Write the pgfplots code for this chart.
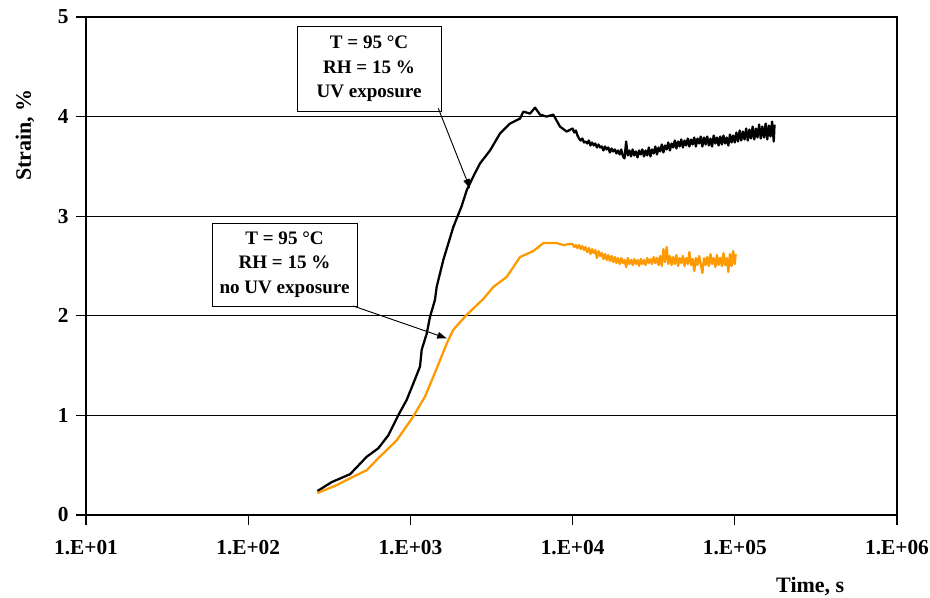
\documentclass[border=0pt]{standalone}
\usepackage{fontspec}
\setmainfont{Liberation Serif}
\usepackage{pgfplots}
\pgfplotsset{compat=1.18}
\usetikzlibrary{arrows.meta}
\definecolor{uvorange}{RGB}{255,153,0}

% UV exposure (black)
\pgfplotstableread{
t       s
267     0.24
327     0.33
425     0.41
538     0.585
634     0.67
731     0.80
841     1.00
948     1.155
1042    1.32
1146    1.49
1174    1.66
1260    1.82
1321    1.99
1417    2.16
1452    2.29
1595    2.56
1838    2.89
2068    3.10
2224    3.26
2444    3.40
2687    3.53
3097    3.66
3567    3.83
4112    3.93
4742    3.98
4970    4.05
5462    4.03
5866    4.09
6295    4.02
6920    4.00
7605    4.02
8356    3.90
9190    3.85
1.000e4 3.88
1.023e4 3.84
1.047e4 3.86
1.072e4 3.81
1.096e4 3.78
1.122e4 3.76
1.148e4 3.78
1.175e4 3.74
1.202e4 3.75
1.230e4 3.73
1.259e4 3.76
1.288e4 3.71
1.318e4 3.74
1.349e4 3.71
1.380e4 3.73
1.413e4 3.69
1.445e4 3.72
1.479e4 3.69
1.514e4 3.70
1.549e4 3.66
1.585e4 3.70
1.622e4 3.67
1.660e4 3.69
1.698e4 3.64
1.738e4 3.68
1.778e4 3.65
1.820e4 3.67
1.862e4 3.63
1.905e4 3.66
1.950e4 3.62
1.995e4 3.67
2.042e4 3.60
2.089e4 3.58
2.138e4 3.75
2.188e4 3.61
2.239e4 3.66
2.291e4 3.60
2.344e4 3.67
2.399e4 3.61
2.455e4 3.65
2.512e4 3.59
2.570e4 3.66
2.630e4 3.62
2.692e4 3.67
2.754e4 3.60
2.818e4 3.66
2.884e4 3.61
2.951e4 3.69
3.020e4 3.60
3.090e4 3.67
3.162e4 3.63
3.236e4 3.70
3.311e4 3.62
3.388e4 3.69
3.467e4 3.65
3.548e4 3.72
3.631e4 3.64
3.715e4 3.71
3.802e4 3.67
3.890e4 3.74
3.981e4 3.66
4.074e4 3.73
4.169e4 3.69
4.266e4 3.76
4.365e4 3.68
4.467e4 3.75
4.571e4 3.70
4.677e4 3.77
4.786e4 3.69
4.898e4 3.76
5.012e4 3.71
5.129e4 3.78
5.248e4 3.70
5.370e4 3.77
5.495e4 3.72
5.623e4 3.79
5.754e4 3.70
5.888e4 3.78
6.026e4 3.73
6.166e4 3.80
6.310e4 3.70
6.457e4 3.79
6.607e4 3.72
6.761e4 3.80
6.918e4 3.71
7.079e4 3.78
7.244e4 3.70
7.413e4 3.81
7.586e4 3.73
7.762e4 3.79
7.943e4 3.71
8.128e4 3.80
8.318e4 3.72
8.511e4 3.81
8.710e4 3.73
8.913e4 3.79
9.120e4 3.71
9.333e4 3.82
9.550e4 3.74
9.772e4 3.81
1.000e5 3.74
1.023e5 3.84
1.047e5 3.75
1.072e5 3.86
1.096e5 3.76
1.122e5 3.85
1.148e5 3.77
1.175e5 3.88
1.202e5 3.76
1.230e5 3.87
1.259e5 3.78
1.288e5 3.90
1.318e5 3.77
1.349e5 3.88
1.380e5 3.79
1.413e5 3.92
1.445e5 3.78
1.479e5 3.90
1.514e5 3.79
1.549e5 3.93
1.585e5 3.77
1.622e5 3.91
1.660e5 3.80
1.698e5 3.95
1.738e5 3.75
1.758e5 3.92
}\uvdata

% no UV exposure (orange)
\pgfplotstableread{
t       s
267     0.22
351     0.30
445     0.385
538     0.45
634     0.57
823     0.75
1042    0.99
1231    1.19
1452    1.47
1673    1.72
1838    1.86
2224    2.01
2816    2.17
3246    2.29
3924    2.39
4742    2.59
5723    2.65
6597    2.73
7974    2.73
8765    2.71
9550    2.72
1.000e4 2.72
1.023e4 2.69
1.047e4 2.71
1.072e4 2.68
1.096e4 2.71
1.122e4 2.67
1.148e4 2.70
1.175e4 2.66
1.202e4 2.69
1.230e4 2.64
1.259e4 2.68
1.288e4 2.62
1.318e4 2.67
1.349e4 2.63
1.380e4 2.66
1.413e4 2.58
1.445e4 2.65
1.479e4 2.60
1.514e4 2.63
1.549e4 2.57
1.585e4 2.62
1.622e4 2.56
1.660e4 2.61
1.698e4 2.55
1.738e4 2.60
1.778e4 2.54
1.820e4 2.59
1.862e4 2.53
1.905e4 2.58
1.950e4 2.52
1.995e4 2.58
2.042e4 2.53
2.089e4 2.56
2.138e4 2.49
2.188e4 2.58
2.239e4 2.52
2.291e4 2.56
2.344e4 2.51
2.399e4 2.57
2.455e4 2.52
2.512e4 2.56
2.570e4 2.50
2.630e4 2.57
2.692e4 2.52
2.754e4 2.56
2.818e4 2.51
2.884e4 2.58
2.951e4 2.53
3.020e4 2.57
3.090e4 2.52
3.162e4 2.59
3.236e4 2.53
3.311e4 2.58
3.388e4 2.51
3.467e4 2.60
3.548e4 2.50
3.631e4 2.67
3.715e4 2.54
3.802e4 2.69
3.890e4 2.52
3.981e4 2.60
4.074e4 2.51
4.169e4 2.59
4.266e4 2.52
4.365e4 2.61
4.467e4 2.50
4.571e4 2.58
4.677e4 2.53
4.786e4 2.60
4.898e4 2.50
5.012e4 2.58
5.129e4 2.52
5.248e4 2.64
5.370e4 2.51
5.495e4 2.57
5.623e4 2.45
5.754e4 2.58
5.888e4 2.51
6.026e4 2.60
6.166e4 2.52
6.310e4 2.43
6.457e4 2.58
6.607e4 2.51
6.761e4 2.59
6.918e4 2.50
7.079e4 2.62
7.244e4 2.52
7.413e4 2.58
7.586e4 2.49
7.762e4 2.61
7.943e4 2.51
8.128e4 2.58
8.318e4 2.50
8.511e4 2.63
8.710e4 2.51
8.913e4 2.58
9.120e4 2.44
9.333e4 2.62
9.550e4 2.50
9.772e4 2.65
1.000e5 2.52
1.012e5 2.62
}\nouvdata

\begin{document}
\begin{tikzpicture}
\useasboundingbox (-64.5pt,-62.25pt) rectangle (633pt,386.25pt);
\begin{axis}[
  at={(0,0)}, anchor=south west,
  scale only axis, width=608.25pt, height=373.5pt,
  xmode=log, xmin=10, xmax=1e6, ymin=0, ymax=5,
  xtick={10,100,1000,10000,100000,1000000},
  xticklabels={1.E+01,1.E+02,1.E+03,1.E+04,1.E+05,1.E+06},
  xminorticks=false,
  ytick={0,1,2,3,4,5}, yticklabels={0,1,2,3,4,5},
  xtick pos=bottom, ytick pos=left,
  tick align=outside, major tick length=7.5pt,
  tick style={black, line width=0.8pt},
  ymajorgrids, grid style={black, line width=0.6pt},
  axis line style={line width=0.8pt},
  ticklabel style={font=\fontsize{16}{18}\selectfont\bfseries},
  yticklabel style={xshift=-2pt},
  xticklabel style={yshift=-8pt},
  xlabel={Time, s}, ylabel={Strain, \%},
  label style={font=\fontsize{16.5}{19}\selectfont\bfseries},
  xlabel style={at={(axis description cs:0.893,-0.1446)}, anchor=center},
  ylabel style={at={(axis description cs:-0.0752,0.763)}, anchor=center},
]
\addplot[black, line width=1.7pt, line join=round] table[x=t, y=s] {\uvdata};
\addplot[uvorange, line width=1.7pt, line join=round] table[x=t, y=s] {\nouvdata};

\node[draw, fill=white, line width=0.6pt, align=center, inner sep=0pt,
  minimum width=108pt, minimum height=63.75pt,
  font=\fontsize{14.3}{18.4}\selectfont\bfseries]
  at (axis cs:556,4.48) {T = 95 °C\\RH = 15 \%\\UV exposure};
\node[draw, fill=white, line width=0.6pt, align=center, inner sep=0pt,
  minimum width=108.75pt, minimum height=62.25pt,
  font=\fontsize{14.3}{18.4}\selectfont\bfseries]
  at (axis cs:167.5,2.515) {T = 95 °C\\RH = 15 \%\\no UV exposure};
\draw[-{Triangle[length=7pt,width=5pt]}, line width=0.7pt]
  (axis cs:1486,4.083) -- (axis cs:2328,3.28);
\draw[-{Triangle[length=7pt,width=5pt]}, line width=0.7pt]
  (axis cs:445,2.098) -- (axis cs:1673,1.774);
\end{axis}
\end{tikzpicture}
\end{document}
